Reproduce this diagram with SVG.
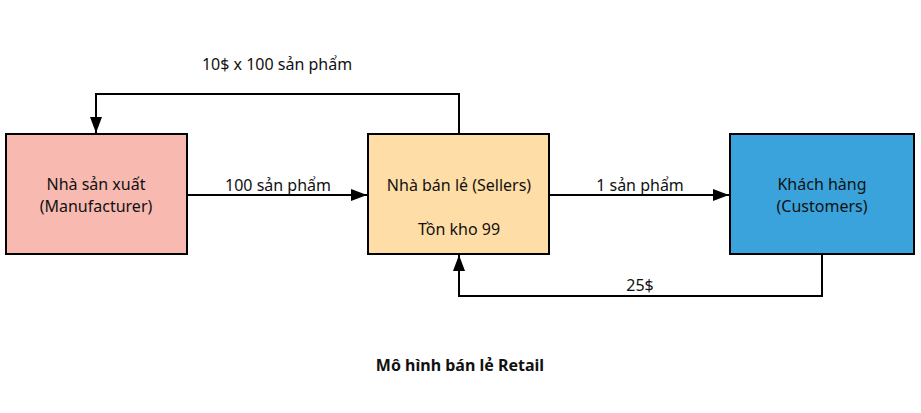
<svg xmlns="http://www.w3.org/2000/svg" width="921" height="413" viewBox="0 0 921 413">
<style>
.box{stroke:#000;stroke-width:2}
.t{font-family:"Noto Sans","Open Sans",sans-serif;font-size:16px;fill:#111;text-anchor:middle}
.b{font-weight:bold}
.c{fill:none;stroke:#000;stroke-width:2}
</style>
<defs>
<marker id="ah" viewBox="0 0 16 12" refX="16" refY="6" markerWidth="16" markerHeight="12" markerUnits="userSpaceOnUse" orient="auto">
<path d="M0,0 L16,6 L0,12 Z" fill="#000"/>
</marker>
</defs>
<rect width="921" height="413" fill="#fff"/>
<g id="connectors">
<path class="c" d="M187,195 H367" marker-end="url(#ah)"/>
<path class="c" d="M549,195 H729" marker-end="url(#ah)"/>
<path class="c" d="M459,134 V94 H96 V133" marker-end="url(#ah)"/>
<path class="c" d="M822,254 V296 H459 V255" marker-end="url(#ah)"/>
<text class="t" x="278" y="191">100 sản phẩm</text>
<text class="t" x="640" y="191">1 sản phẩm</text>
<text class="t" x="277" y="70">10$ x 100 sản phẩm</text>
<text class="t" x="640" y="291">25$</text>
</g>
<g id="manufacturer">
<rect class="box" x="6" y="134" width="181" height="120" fill="#F8B9B0"/>
<text class="t" x="96" y="190">Nhà sản xuất</text>
<text class="t" x="96" y="212">(Manufacturer)</text>
</g>
<g id="sellers">
<rect class="box" x="368" y="134" width="181" height="120" fill="#FFDDA6"/>
<text class="t" x="459" y="191">Nhà bán lẻ (Sellers)</text>
<text class="t" x="459" y="235">Tồn kho 99</text>
</g>
<g id="customers">
<rect class="box" x="730" y="134" width="184" height="120" fill="#3AA3DC"/>
<text class="t" x="822" y="190">Khách hàng</text>
<text class="t" x="822" y="212">(Customers)</text>
</g>
<text class="t b" x="460" y="371">Mô hình bán lẻ Retail</text>
</svg>
